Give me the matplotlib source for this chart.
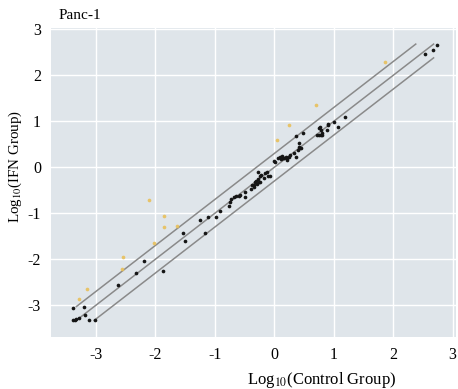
import numpy as np
import matplotlib
matplotlib.use("Agg")
import matplotlib.pyplot as plt

plt.rcParams['font.family'] = ['Liberation Serif', 'DejaVu Serif']
plt.rcParams['mathtext.fontset'] = 'stix'
plt.rcParams['axes.unicode_minus'] = False

# log10 expression, control vs IFN (genes within 2-fold)
ctrl = [-3.38, -3.21, -3.38, -3.36, -3.33, -3.29, -3.18, -3.11, -3.01, -2.63,
        -2.32, -2.19, -1.87, -1.53, -1.51, -1.25, -1.17, -1.12, -0.98, -0.92,
        -0.77, -0.74, -0.73, -0.68, -0.64, -0.60, -0.57, -0.50, -0.50, -0.38,
        -0.34, -0.33, -0.30, -0.27, -0.26, -0.24, -0.22, -0.28, -0.16, -0.12,
        -0.10, -0.07, -0.01, 0.02, 0.06, 0.09, 0.13, 0.16, 0.19, 0.22,
        0.25, 0.27, 0.33, 0.36, 0.41, 0.41, 0.45, 0.36, 0.49, 0.71,
        0.75, 0.78, 0.75, 0.79, 0.89, 0.91, 1.00, 1.08, 1.19, 2.53,
        2.67, 2.73, 0.80, 0.81, 0.90, 0.77, 0.43, 0.40, -0.34, -0.24,
        -0.18, 0.11, 0.15, 0.22, -0.29, -0.40]
ifn = [-3.07, -3.04, -3.32, -3.32, -3.31, -3.29, -3.22, -3.32, -3.32, -2.56,
       -2.31, -2.03, -2.25, -1.43, -1.60, -1.14, -1.43, -1.09, -1.09, -0.95,
       -0.84, -0.75, -0.70, -0.65, -0.62, -0.62, -0.61, -0.54, -0.64, -0.39,
       -0.42, -0.33, -0.29, -0.26, -0.33, -0.20, -0.17, -0.10, -0.13, -0.10,
       -0.19, -0.18, 0.14, 0.12, 0.20, 0.22, 0.25, 0.20, 0.23, 0.16,
       0.22, 0.27, 0.30, 0.23, 0.45, 0.52, 0.43, 0.68, 0.74, 0.71,
       0.71, 0.71, 0.85, 0.82, 0.82, 0.95, 0.98, 0.88, 1.09, 2.47,
       2.56, 2.66, 0.74, 0.70, 0.92, 0.88, 0.41, 0.37, -0.38, -0.33,
       -0.24, 0.17, 0.21, 0.21, -0.36, -0.47]

# genes outside the 2-fold band
ctrl_up = [-2.10, -1.86, -1.86, -1.63, -2.02, -2.55, -2.56, -3.15, -3.28,
           0.25, 0.04, 0.70, 1.87]
ifn_up = [-0.72, -1.06, -1.29, -1.27, -1.64, -1.95, -2.21, -2.65, -2.86,
          0.92, 0.59, 1.35, 2.28]

lo, hi = -3.33, 2.68
fold = 0.3

fig = plt.figure(figsize=(4.58, 3.89), dpi=100)
ax = fig.add_axes([0.111, 0.134, 0.885, 0.794])
ax.set_facecolor('#dfe5ea')
for s in ax.spines.values():
    s.set_visible(False)
ax.grid(True, color='white', linewidth=1.0)
ax.set_axisbelow(True)

# y = x and the 2-fold lines, clipped to the data box
for off in [fold, 0, -fold]:
    x0 = max(lo, lo - off)
    x1 = min(hi, hi - off)
    ax.plot([x0, x1], [x0 + off, x1 + off], color='#8a8a8a', linewidth=1.1, zorder=2)

ax.scatter(ctrl_up, ifn_up, s=7, color='#e8c05a', alpha=0.9, linewidths=0, zorder=3)
ax.scatter(ctrl, ifn, s=7, color='#151515', linewidths=0, zorder=3)

ax.set_xlim(-3.76, 3.06)
ax.set_ylim(-3.69, 3.03)
ax.set_xticks([-3, -2, -1, 0, 1, 2, 3])
ax.set_yticks([-3, -2, -1, 0, 1, 2, 3])
ax.tick_params(length=0, labelsize=11.5, pad=7)

ax.set_xlabel(r'Log$_{10}$(Control Group)', fontsize=12)
ax.xaxis.set_label_coords(0.667, -0.108)
ax.set_ylabel(r'Log$_{10}$(IFN Group)', fontsize=10.8)
ax.yaxis.set_label_coords(-0.066, 0.553)
ax.text(0.018, 1.02, 'Panc-1', transform=ax.transAxes, fontsize=11,
        ha='left', va='bottom')

fig.savefig('out.png', dpi=100)
